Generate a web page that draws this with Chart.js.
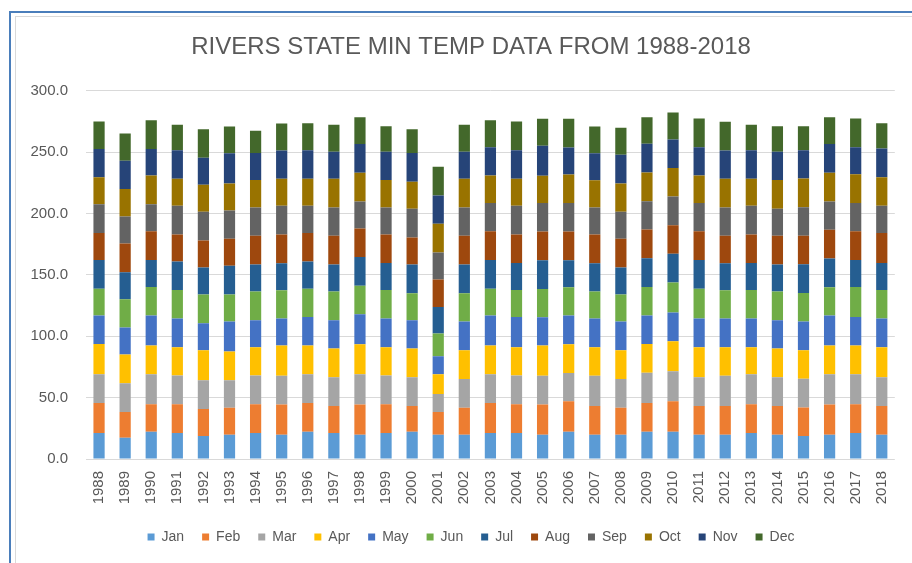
<!DOCTYPE html>
<html>
<head>
<meta charset="utf-8">
<script src="https://cdn.jsdelivr.net/npm/chart.js@4.4.1/dist/chart.umd.min.js"></script>
<style>
  html, body { margin: 0; padding: 0; background: #fff; }
  #wrap { position: relative; width: 912px; height: 563px; overflow: hidden; }
  #chart { position: absolute; left: 0; top: 0; }
  /* excel style selection frame, cut off at right and bottom */
  #frame { position: absolute; left: 9px; top: 11px; width: 940px; height: 600px; border: 2px solid #4a7ebb; pointer-events: none; }
  #inner { position: absolute; left: 15px; top: 16px; width: 940px; height: 600px; border: 1px solid #d9d9d9; pointer-events: none; }
</style>
</head>
<body>
<div id="wrap">
  <canvas id="chart" width="912" height="563"></canvas>
  <div id="frame"></div>
  <div id="inner"></div>
</div>
<script>
var years = ['1988','1989','1990','1991','1992','1993','1994','1995','1996','1997','1998','1999','2000',
  '2001','2002','2003','2004','2005','2006','2007','2008','2009','2010','2011','2012','2013','2014',
  '2015','2016','2017','2018'];

var months = ['Jan','Feb','Mar','Apr','May','Jun','Jul','Aug','Sep','Oct','Nov','Dec'];

// monthly min temp, one value per year (1988-2018)
var jan = [21.2,17.4,22.3,21.2,18.8,19.8,21.2,19.8,22.3,21.2,19.8,21.2,22.3,19.8,19.8,21.2,21.2,19.8,22.3,19.8,19.8,22.3,22.3,19.8,19.8,21.2,19.8,18.8,19.8,21.2,19.8];
var feb = [24.5,20.9,22.3,23.4,22.0,22.0,23.4,24.7,23.4,22.0,24.7,23.4,20.9,18.5,22.0,24.5,23.4,24.7,24.7,23.4,22.0,23.4,24.7,23.4,23.4,23.4,23.4,23.1,24.7,23.4,23.4];
var mar = [23.4,23.4,24.5,23.4,23.4,22.3,23.4,23.4,23.4,23.4,24.5,23.4,23.4,14.7,23.4,23.4,23.4,23.4,23.1,24.7,23.4,24.5,24.5,23.4,24.7,24.5,23.4,23.4,24.5,24.5,23.4];
var apr = [24.5,23.4,23.4,23.1,24.5,23.4,23.1,24.5,23.4,23.4,24.5,23.1,23.4,16.0,23.4,23.4,23.1,24.5,23.4,23.1,23.4,23.4,24.5,24.5,23.1,22.0,23.4,23.4,23.4,23.4,24.5];
var may = [23.4,22.0,24.5,23.4,22.0,24.5,22.0,22.0,23.1,23.1,24.5,23.4,23.1,14.7,23.4,24.5,24.5,23.1,23.4,23.4,23.4,23.4,23.4,23.4,23.4,23.4,23.1,23.4,24.5,23.1,23.4];
var jun = [21.7,23.1,23.1,23.1,23.4,22.0,23.4,23.1,23.1,23.4,23.1,23.1,22.0,18.5,23.1,21.7,22.0,23.1,23.1,22.0,22.0,23.1,24.5,24.2,23.1,23.1,23.4,23.1,23.1,24.5,23.1];
var jul = [23.4,22.0,22.0,23.4,22.0,23.4,22.0,22.0,22.3,22.0,23.4,22.0,23.4,21.7,23.4,23.4,22.0,23.4,22.0,23.1,22.0,23.4,23.4,23.4,22.0,22.0,22.0,23.4,23.4,22.0,22.0];
var aug = [22.0,23.4,23.4,22.0,22.0,22.0,23.4,23.4,23.1,23.4,23.4,23.4,22.0,22.3,23.4,23.4,23.4,23.4,23.4,23.4,23.4,23.4,23.1,23.4,22.3,23.4,23.4,23.4,23.4,23.4,24.5];
var sep = [23.4,22.0,22.0,23.4,23.4,23.1,23.1,23.4,22.3,23.1,22.0,22.0,23.4,22.0,23.1,23.1,23.4,23.1,23.1,22.0,22.0,23.1,23.4,23.1,23.1,23.4,22.0,23.1,23.1,23.1,22.3];
var oct = [22.0,22.3,23.4,22.0,22.0,22.0,22.3,22.0,22.0,23.4,23.4,22.3,22.0,23.4,23.4,22.3,22.0,22.3,23.4,22.3,23.1,23.4,23.4,22.3,23.4,22.0,23.4,23.4,23.4,23.4,23.1];
var nov = [23.1,23.1,21.7,23.1,22.0,24.7,22.0,23.1,23.1,22.0,23.4,23.1,23.4,23.1,22.0,23.1,23.1,24.5,22.0,22.0,23.4,23.4,23.1,23.1,23.1,23.1,23.1,23.1,23.4,22.0,23.4];
var dec = [22.3,22.3,23.4,20.9,23.1,21.7,18.2,22.0,22.0,22.0,21.7,20.7,19.3,23.4,22.0,22.0,23.4,22.0,23.4,21.7,22.0,21.7,22.0,23.4,23.4,20.9,20.7,19.6,21.7,23.4,20.7];

var yTicks = [0, 50, 100, 150, 200, 250, 300];

var series = [jan, feb, mar, apr, may, jun, jul, aug, sep, oct, nov, dec];
var colors = ['#5b9bd5','#ed7d31','#a5a5a5','#ffc000','#4472c4','#70ad47',
              '#255e91','#9e480e','#636363','#997300','#264478','#43682b'];

var datasets = months.map(function(m, i) {
  return {
    label: m,
    data: series[i],
    backgroundColor: colors[i],
    borderWidth: 0,
    categoryPercentage: 1.0,
    barPercentage: 0.43
  };
});

var textColor = '#595959';
var ctx = document.getElementById('chart').getContext('2d');

var chart = new Chart(ctx, {
  type: 'bar',
  data: { labels: years, datasets: datasets },
  options: {
    responsive: false,
    animation: false,
    devicePixelRatio: 1,
    // left padding only recentres title + legend, y axis width makes up the rest
    layout: { padding: { left: 44, right: 14, top: 0, bottom: 9 } },
    plugins: {
      tooltip: { enabled: false },
      title: {
        display: true,
        text: 'RIVERS STATE MIN TEMP DATA FROM 1988-2018',
        color: textColor,
        font: { family: '"Liberation Sans", Arial, sans-serif', size: 24, weight: 'normal', lineHeight: 1.2 },
        padding: { top: 33, bottom: 29 }
      },
      legend: {
        position: 'bottom',
        labels: {
          color: textColor,
          boxWidth: 7,
          boxHeight: 7,
          padding: 18,
          font: { family: '"Liberation Sans", Arial, sans-serif', size: 14 }
        }
      }
    },
    scales: {
      x: {
        stacked: true,
        grid: { display: false, drawTicks: false },
        border: { display: false },
        ticks: {
          color: textColor,
          autoSkip: false,
          maxRotation: 90,
          minRotation: 90,
          padding: 12,
          font: { family: '"Liberation Sans", Arial, sans-serif', size: 15 }
        },
        afterFit: function(scale) { scale.height = 53; }
      },
      y: {
        stacked: true,
        min: 0,
        max: 300,
        grid: { color: '#d9d9d9', lineWidth: 1, drawTicks: false },
        border: { display: false },
        afterBuildTicks: function(scale) {
          scale.ticks = yTicks.map(function(v) { return { value: v }; });
        },
        ticks: {
          color: textColor,
          padding: 18,
          font: { family: '"Liberation Sans", Arial, sans-serif', size: 15 },
          callback: function(v) { return Number(v).toFixed(1); }
        },
        afterFit: function(scale) {
          scale.width = 42;
          // labels reach left of the narrowed axis box, so don't clip them
          scale._computeLabelArea = function() { return undefined; };
        }
      }
    }
  }
});
</script>
</body>
</html>
